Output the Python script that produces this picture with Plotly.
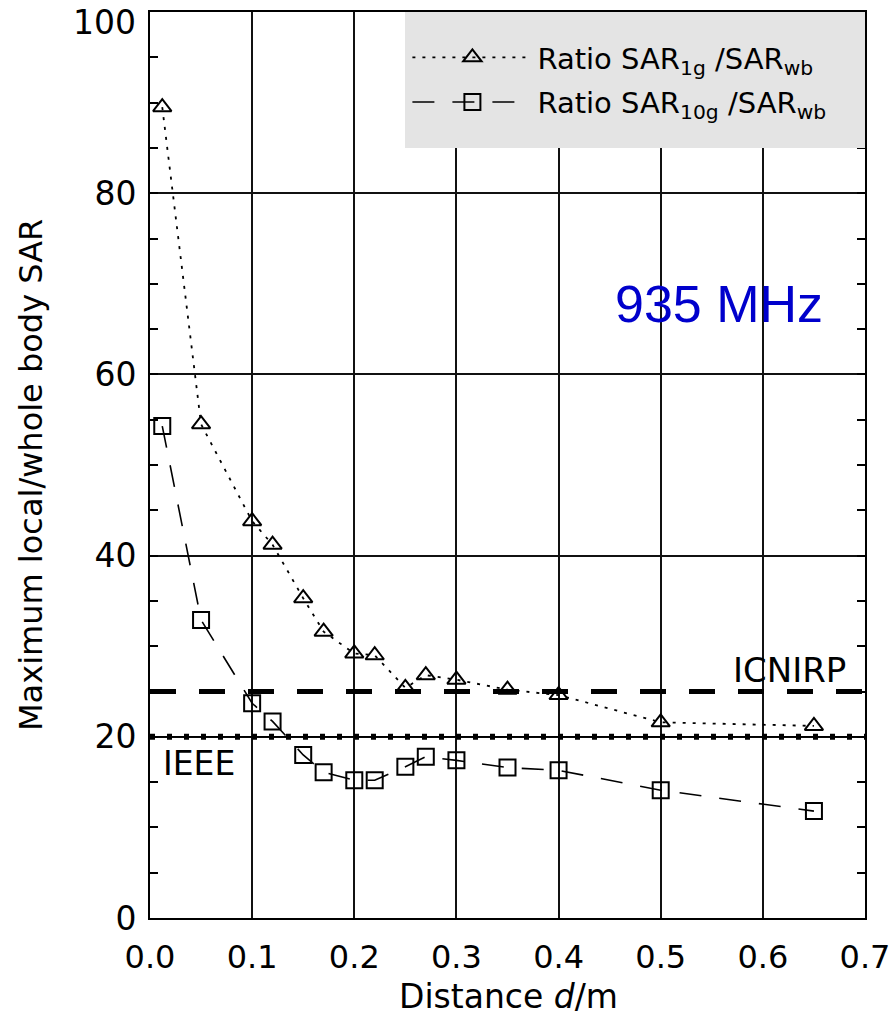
import plotly.graph_objects as go

distance = [0.012, 0.05, 0.10, 0.12, 0.15, 0.17, 0.20, 0.22, 0.25, 0.27, 0.30, 0.35, 0.40, 0.50, 0.65]
ratio_1g = [89.5, 54.5, 43.8, 41.2, 35.3, 31.6, 29.2, 29.0, 25.4, 26.8, 26.3, 25.2, 24.6, 21.6, 21.2]
ratio_10g = [54.3, 32.9, 23.7, 21.7, 18.0, 16.1, 15.2, 15.2, 16.7, 17.8, 17.4, 16.6, 16.3, 14.1, 11.8]
icnirp_limit = 25
ieee_limit = 20
x_ticks = [0.0, 0.1, 0.2, 0.3, 0.4, 0.5, 0.6, 0.7]
y_ticks = [0, 20, 40, 60, 80, 100]
y_top_label = "100"

FONT = "DejaVu Sans"

fig = go.Figure()

fig.add_trace(go.Scatter(
    x=distance, y=ratio_1g, mode="lines+markers",
    name="Ratio SAR<sub>1g</sub> /SAR<sub>wb</sub>", legendgroup="a",
    line=dict(color="black", width=1.8, dash="3px,7px"),
    marker=dict(symbol="triangle-up-open", size=16, color="black", line=dict(width=2)),
))
fig.add_trace(go.Scatter(
    x=distance, y=ratio_10g, mode="lines+markers",
    name="Ratio SAR<sub>10g</sub> /SAR<sub>wb</sub>", legendgroup="b",
    line=dict(color="black", width=1.6, dash="22px,18px"),
    marker=dict(symbol="square-open", size=16, color="black", line=dict(width=2)),
))

# Legend background box
fig.add_shape(type="rect", xref="paper", yref="paper", x0=0.3566, x1=1.0, y0=0.85, y1=1.0,
              fillcolor="#e4e4e4", line=dict(width=0), layer="above")

# Reference limits
fig.add_shape(type="line", xref="x", yref="y", x0=0, x1=0.7, y0=icnirp_limit, y1=icnirp_limit,
              line=dict(color="black", width=5, dash="26px,23px"))
fig.add_shape(type="line", xref="x", yref="y", x0=0, x1=0.7, y0=ieee_limit, y1=ieee_limit,
              line=dict(color="black", width=1.5))
fig.add_shape(type="line", xref="x", yref="y", x0=0, x1=0.7, y0=ieee_limit, y1=ieee_limit,
              line=dict(color="black", width=6, dash="5px,12px"))

fig.add_annotation(x=0.683, y=icnirp_limit, xref="x", yref="y", text="ICNIRP",
                   showarrow=False, xanchor="right", yanchor="bottom", yshift=0,
                   font=dict(family=FONT, size=34, color="black"))
fig.add_annotation(x=0.011, y=ieee_limit, xref="x", yref="y", text="IEEE",
                   showarrow=False, xanchor="left", yanchor="top", yshift=-5,
                   font=dict(family=FONT, size=33, color="black"))
fig.add_annotation(x=0.557, y=67.8, xref="x", yref="y", text="935 MHz",
                   showarrow=False, xanchor="center", yanchor="middle",
                   font=dict(family="Liberation Sans", size=52, color="#0000cc"))

# Top y tick label (drawn slightly below the tick, as in the reference)
fig.add_annotation(x=-0.0168, y=y_ticks[-1], xref="paper", yref="y", text=y_top_label,
                   showarrow=False, xanchor="right", yanchor="middle", yshift=-10,
                   font=dict(family=FONT, size=33, color="black"))

# Axis titles as annotations for exact placement
fig.add_annotation(x=-0.1664, y=0.489, xref="paper", yref="paper",
                   text="Maximum local/whole body SAR", textangle=-90,
                   showarrow=False, xanchor="center", yanchor="middle",
                   font=dict(family=FONT, size=32, color="black"))
fig.add_annotation(x=0.5007, y=-0.0861, xref="paper", yref="paper",
                   text="Distance <i>d</i>/m",
                   showarrow=False, xanchor="center", yanchor="middle",
                   font=dict(family=FONT, size=33, color="black"))

fig.update_layout(
    width=893, height=1018,
    margin=dict(l=150, r=28, t=12, b=100, autoexpand=False),
    plot_bgcolor="white", paper_bgcolor="white",
    font=dict(family=FONT, size=24, color="black"),
    showlegend=True,
    legend=dict(x=0.36, y=0.925, xanchor="left", yanchor="middle",
                bgcolor="rgba(0,0,0,0)", borderwidth=0,
                font=dict(family=FONT, size=29, color="black"),
                itemwidth=120, tracegroupgap=4, traceorder="grouped"),
    xaxis=dict(range=[0, 0.7], tickvals=x_ticks, ticktext=[f"{v:.1f}" for v in x_ticks],
               showgrid=True, gridcolor="#111", gridwidth=2,
               showline=True, linecolor="black", linewidth=2, mirror=True,
               ticks="", zeroline=False, ticklabelstandoff=10, ticklabeloverflow="allow",
               automargin=False,
               tickfont=dict(family=FONT, size=32)),
    yaxis=dict(range=[0, 100], tickvals=y_ticks,
               ticktext=[str(v) for v in y_ticks[:-1]] + [""],
               showgrid=True, gridcolor="#111", gridwidth=2,
               showline=True, linecolor="black", linewidth=2, mirror="ticks",
               ticks="inside", ticklen=8, tickwidth=1.5, tickcolor="black",
               minor=dict(dtick=5, ticks="inside", ticklen=8, tickwidth=1.5, tickcolor="black", showgrid=False),
               zeroline=False, ticklabelstandoff=5, ticklabeloverflow="allow",
               automargin=False,
               tickfont=dict(family=FONT, size=33)),
)

fig.write_html("out.html", config={"displayModeBar": False},
               post_script="document.body.style.margin='0';")
